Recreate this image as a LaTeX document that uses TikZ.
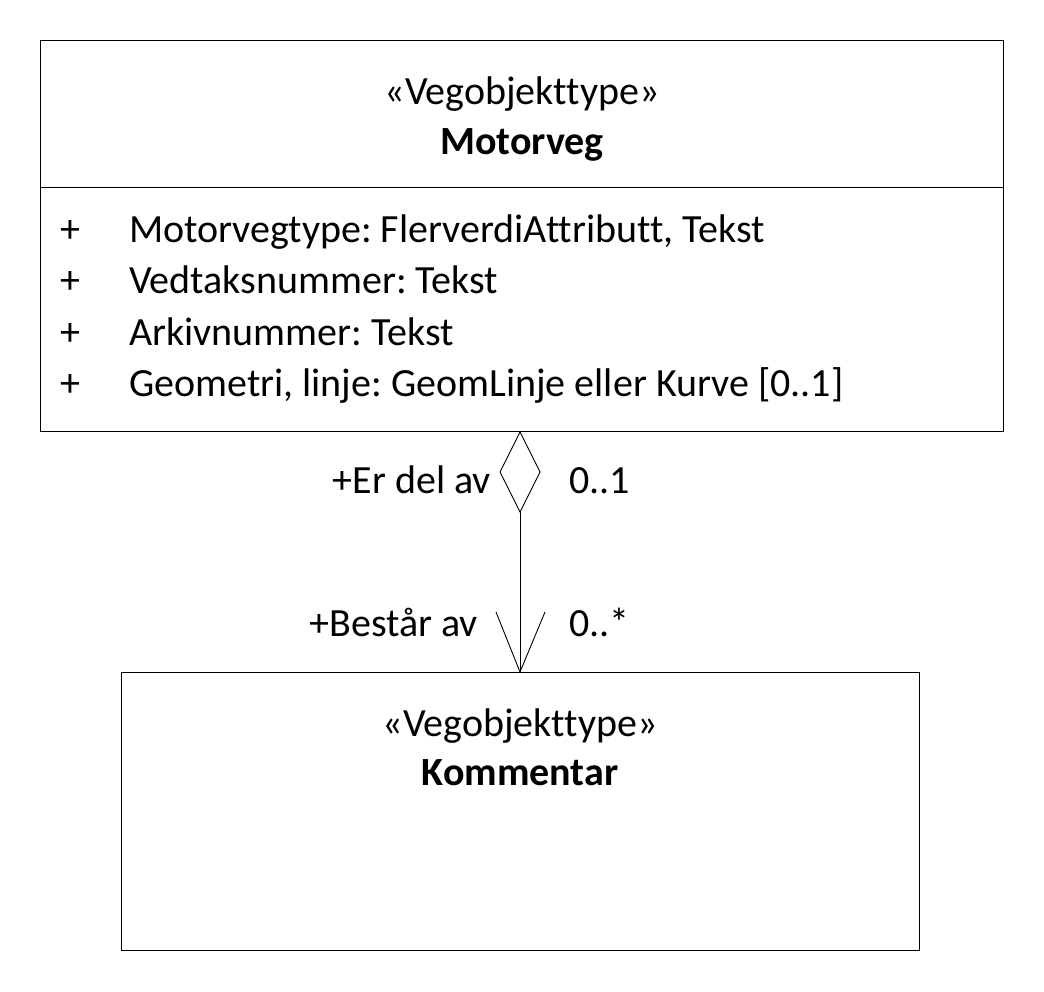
\documentclass[tikz,border=0pt]{standalone}
\usepackage{fontspec}
\setmainfont[Ligatures=NoCommon]{Carlito}
\begin{document}
\frenchspacing
\begin{tikzpicture}[x=1pt,y=-1pt,
  box/.style={draw,line width=0.9pt},
  txt/.style={inner sep=0pt,font=\fontsize{40}{46}\selectfont},
  btxt/.style={inner sep=0pt,font=\fontsize{40}{46}\selectfont\bfseries},
  line/.style={line width=0.9pt}]
\useasboundingbox (0,0) rectangle (1044,992);
% top class
\draw[box] (40,40) rectangle (1003,431);
\draw[line] (40,187) -- (1003,187);
\node[txt,anchor=base] (st1) at (522,105) {«Vegobjekttype»};
\node[btxt,anchor=base] (n1) at (522,155) {Motorveg};
\foreach \y/\t [count=\i] in {243/{Motorvegtype: FlerverdiAttributt, Tekst},294/{Vedtaksnummer: Tekst},345/{Arkivnummer: Tekst},396/{Geometri, linje: GeomLinje eller Kurve [0..1]}}{
  \node[txt,anchor=base west] (p\i) at (60,\y) {+};
  \node[txt,anchor=base west] (a\i) at (129,\y) {\t};
}
% bottom class
\draw[box] (121,672) rectangle (919,950);
\node[txt,anchor=base] (st2) at (520,736) {«Vegobjekttype»};
\node[btxt,anchor=base] (n2) at (520,785) {Kommentar};
% association
\coordinate (dtop) at (520,432);
\coordinate (dl) at (500,472);
\coordinate (dr) at (540,472);
\coordinate (dbot) at (520,512);
\coordinate (tip) at (520,672);
\coordinate (al) at (496,612);
\coordinate (ar) at (545,612);
\draw[line,line join=miter] (dtop) -- (dl) -- (dbot) -- (dr) -- cycle;
\draw[line] (dbot) -- (tip);
\draw[line] (al) -- (tip) -- (ar);
\node[txt,anchor=base east] (l1) at (491,493) {+Er del av};
\node[txt,anchor=base west] (m1) at (569,493) {0..1};
\node[txt,anchor=base east] (l2) at (478,636) {+Består av};
\node[txt,anchor=base west] (m2) at (569,636) {0..*};
\end{tikzpicture}
\end{document}
